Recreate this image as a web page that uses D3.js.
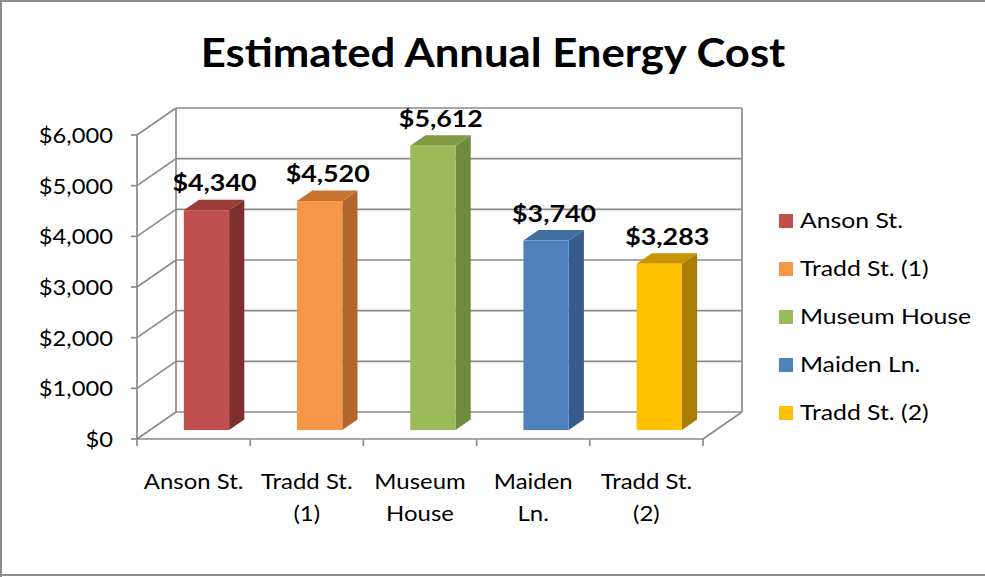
<!DOCTYPE html>
<html><head><meta charset="utf-8">
<script src="https://cdn.jsdelivr.net/npm/d3@7"></script>
<style>body{margin:0;background:#fff} svg{display:block} text{font-family:Lato,"Open Sans",sans-serif;fill:#000}</style>
</head><body><svg id="c" width="985" height="577"></svg>
<script>
const title = "Estimated Annual Energy Cost";
const categories = ["Anson St.","Tradd St. (1)","Museum House","Maiden Ln.","Tradd St. (2)"];
const categoryLines = [["Anson St."],["Tradd St.","(1)"],["Museum","House"],["Maiden","Ln."],["Tradd St.","(2)"]];
const values = [4340,4520,5612,3740,3283];
const yTicks = [0,1000,2000,3000,4000,5000,6000];
const frontColors = ["#C0504D","#F79646","#9BBB59","#4F81BD","#FFC000"];
const sideColors = ["#7E302E","#B3662C","#6F8A3C","#375D8B","#A87D00"];
const topColors = ["#9C3B38","#C9732F","#7F9C45","#406C9E","#C69500"];

const svg = d3.select("#c");
const GRID = "#8a8a8a";
const DX = 39, DY = -27;           // full depth offset
const FA = 0.33, FB = 0.72;        // bar front/back depth fractions

const x = d3.scaleBand().domain(categories).range([137, 703]);
const y = d3.scaleLinear().domain([0, 6000]).range([439, 135]);
const P = (xf, v, f) => [xf + DX * f, y(v) + DY * f];
const bw = x.bandwidth(), barW = bw * 0.4;
const xMin = x.range()[0], xMax = x.range()[1];

function txt(parent, tx, ty, s, size, sx, anchor, bold) {
  return parent.append("text").attr("x", 0).attr("y", 0)
    .attr("transform", `translate(${tx},${ty}) scale(${sx},1)`)
    .attr("text-anchor", anchor || "start")
    .style("font-size", size + "px").style("font-weight", bold ? "bold" : "normal").text(s);
}

// border
svg.append("path").attr("d", "M1,577 V1 H985 M0,575 H985").attr("fill","none").attr("stroke","#8c8c8c").attr("stroke-width",2);

// title
txt(svg, 493, 67, title, 41, 1.065, "middle", true);

const g = svg.append("g").attr("stroke", GRID).attr("stroke-width", 1.7).attr("fill","none");
yTicks.forEach(t => {
  const a = P(xMin, t, 1), b = P(xMax, t, 1);
  g.append("line").attr("x1",a[0]).attr("y1",a[1]).attr("x2",b[0]).attr("y2",b[1]);
  const c = P(xMin, t, 0);
  g.append("line").attr("x1",c[0]).attr("y1",c[1]).attr("x2",a[0]).attr("y2",a[1]);
  g.append("line").attr("x1",c[0]-6).attr("y1",c[1]).attr("x2",c[0]).attr("y2",c[1]);
});
[xMin, xMax].forEach(xx => {
  const a = P(xx, 0, 1), b = P(xx, 6000, 1);
  g.append("line").attr("x1",a[0]).attr("y1",a[1]).attr("x2",b[0]).attr("y2",b[1]);
});
g.append("line").attr("x1",xMin).attr("y1",y(0)).attr("x2",xMin).attr("y2",y(6000));
g.append("line").attr("x1",xMin).attr("y1",y(0)).attr("x2",xMax).attr("y2",y(0));
{ const a = P(xMax,0,0), b = P(xMax,0,1);
  g.append("line").attr("x1",a[0]).attr("y1",a[1]).attr("x2",b[0]).attr("y2",b[1]); }
const bounds = categories.map(c => x(c)).concat([xMax]);
bounds.forEach(b => g.append("line").attr("x1",b).attr("y1",y(0)).attr("x2",b).attr("y2",y(0)+7));

// y tick labels
const yl = svg.append("g");
yTicks.forEach(t => txt(yl, 113, y(t) + 8, d3.format("$,")(t), 21, 1.13, "end"));

// bars
const bars = svg.append("g");
values.forEach((v, i) => {
  const x0 = x(categories[i]) + bw/2 - barW/2, x1 = x0 + barW;
  const poly = pts => pts.map(p => p.join(",")).join(" ");
  bars.append("polygon").attr("points", poly([P(x1,v,FA),P(x1,v,FB),P(x1,0,FB),P(x1,0,FA)])).attr("fill", sideColors[i]);
  bars.append("polygon").attr("points", poly([P(x0,v,FA),P(x1,v,FA),P(x1,v,FB),P(x0,v,FB)])).attr("fill", topColors[i]);
  const a = P(x0, v, FA), b = P(x1, 0, FA);
  bars.append("rect").attr("x", a[0]).attr("y", a[1]).attr("width", b[0]-a[0]).attr("height", b[1]-a[1]).attr("fill", frontColors[i]);
  txt(bars, (a[0]+b[0])/2 + 8, a[1] - 19, d3.format("$,")(v), 22, 1.22, "middle", true);
});

// category labels
const cl = svg.append("g");
categoryLines.forEach((lines, i) => {
  const cx = x(categories[i]) + bw/2;
  lines.forEach((ln, j) => txt(cl, cx, 489 + j*32, ln, 21, 1.14, "middle"));
});

// legend
const lg = svg.append("g");
categories.forEach((c, i) => {
  const cy = 221 + i * 48;
  lg.append("rect").attr("x", 779).attr("y", cy - 7).attr("width", 14).attr("height", 14).attr("fill", frontColors[i]);
  txt(lg, 800, cy + 7, c, 21, 1.18);
});
</script></body></html>
